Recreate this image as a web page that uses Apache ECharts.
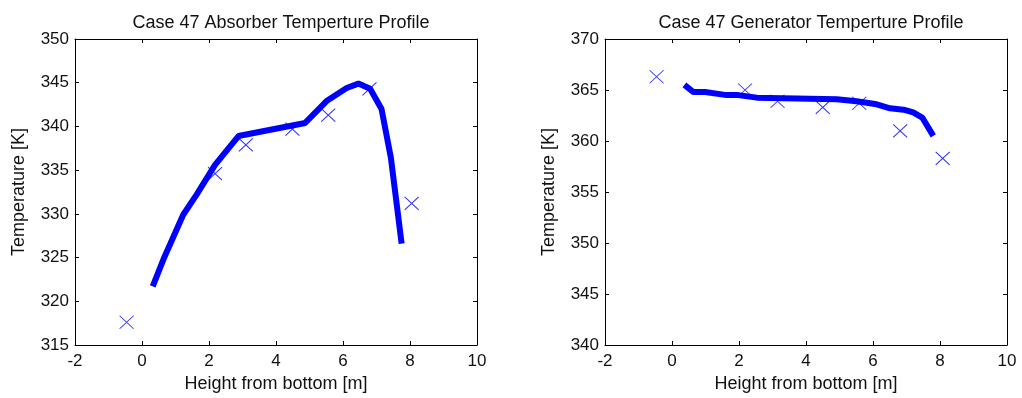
<!DOCTYPE html>
<html>
<head>
<meta charset="utf-8">
<script src="https://cdn.jsdelivr.net/npm/echarts@6/dist/echarts.min.js"></script>
<style>
  html, body { margin: 0; padding: 0; background: #fff; }
  #main { width: 1022px; height: 398px; }
</style>
</head>
<body>
<div id="main"></div>
<script>
// absorber: model curve + measured points
const absLineX = [0.32, 0.64, 1.23, 1.63, 2.18, 2.88, 4.87, 5.51, 6.11, 6.46, 6.81, 7.15, 7.43, 7.75];
const absLineY = [321.7, 324.8, 329.9, 332.2, 335.6, 338.9, 340.4, 342.9, 344.4, 344.9, 344.3, 342.0, 336.4, 326.6];
const absPtX = [-0.46, 2.18, 3.10, 4.49, 5.56, 6.79, 8.05];
const absPtY = [317.6, 334.6, 337.9, 339.7, 341.3, 344.3, 331.2];

// generator
const genLineX = [0.37, 0.64, 0.99, 1.63, 1.98, 2.53, 4.92, 5.51, 6.11, 6.51, 6.91, 7.20, 7.47, 7.80];
const genLineY = [365.5, 364.8, 364.8, 364.5, 364.5, 364.25, 364.1, 363.9, 363.6, 363.2, 363.07, 362.8, 362.3, 360.5];
const genPtX = [-0.46, 2.18, 3.15, 4.50, 5.59, 6.81, 8.08];
const genPtY = [366.3, 365.0, 363.9, 363.3, 363.7, 361.0, 358.3];

const titles = ["Case 47 Absorber Temperture Profile", "Case 47 Generator Temperture Profile"];
const xName = "Height from bottom [m]";
const yName = "Temperature [K]";
const xTicks = [-2, 10, 2];
const yRanges = [[315, 350, 5], [340, 370, 5]];

const font = "Liberation Sans, Arial, sans-serif";
const blue = "#0000ff";
const ink = "#111";
const gridLefts = [75, 605];

function zip(xs, ys) {
  return xs.map((x, i) => [x, ys[i]]);
}

const grid = [];
const xAxis = [];
const yAxis = [];
const title = [];

gridLefts.forEach((left, i) => {
  grid.push({ left: left, top: 39, width: 402, height: 306, show: false });
  title.push({
    text: titles[i],
    left: left + 201,
    top: 9,
    textAlign: "center",
    textStyle: { fontFamily: font, fontSize: 18, fontWeight: "normal", color: ink },
  });
  // bottom + top x axes (box with inward ticks)
  ["bottom", "top"].forEach((pos) => {
    xAxis.push({
      type: "value",
      gridIndex: i,
      position: pos,
      min: xTicks[0],
      max: xTicks[1],
      interval: xTicks[2],
      name: pos == "bottom" ? xName : "",
      nameLocation: "middle",
      nameGap: 30,
      nameTextStyle: { fontFamily: font, fontSize: 18, color: ink },
      axisLine: { show: true, onZero: false, lineStyle: { color: "#000", width: 1 } },
      axisTick: { show: true, inside: true, length: 4, lineStyle: { color: "#000" } },
      axisLabel: { show: pos == "bottom", fontFamily: font, fontSize: 17, color: ink, margin: 8 },
      splitLine: { show: false },
    });
  });
  ["left", "right"].forEach((pos) => {
    yAxis.push({
      type: "value",
      gridIndex: i,
      position: pos,
      min: yRanges[i][0],
      max: yRanges[i][1],
      interval: yRanges[i][2],
      name: pos == "left" ? yName : "",
      nameLocation: "middle",
      nameGap: 47,
      nameTextStyle: { fontFamily: font, fontSize: 18, color: ink },
      axisLine: { show: true, onZero: false, lineStyle: { color: "#000", width: 1 } },
      axisTick: { show: true, inside: true, length: 4, lineStyle: { color: "#000" } },
      axisLabel: { show: pos == "left", fontFamily: font, fontSize: 17, color: ink, margin: 6 },
      splitLine: { show: false },
    });
  });
});

const cross = "path://M0,0L10,10M10,0L0,10";

function lineSeries(i, data) {
  return {
    type: "line",
    xAxisIndex: i * 2,
    yAxisIndex: i * 2,
    data: data,
    showSymbol: false,
    lineStyle: { color: blue, width: 6 },
    z: 2,
  };
}

function markSeries(i, data) {
  return {
    type: "scatter",
    xAxisIndex: i * 2,
    yAxisIndex: i * 2,
    data: data,
    symbol: cross,
    symbolSize: [14, 13],
    itemStyle: { color: "none", borderColor: blue, borderWidth: 1 },
    z: 3,
  };
}

const chart = echarts.init(document.getElementById("main"), null, { renderer: "canvas" });
chart.setOption({
  backgroundColor: "#fff",
  animation: false,
  title: title,
  grid: grid,
  xAxis: xAxis,
  yAxis: yAxis,
  series: [
    lineSeries(0, zip(absLineX, absLineY)),
    markSeries(0, zip(absPtX, absPtY)),
    lineSeries(1, zip(genLineX, genLineY)),
    markSeries(1, zip(genPtX, genPtY)),
  ],
});
</script>
</body>
</html>
